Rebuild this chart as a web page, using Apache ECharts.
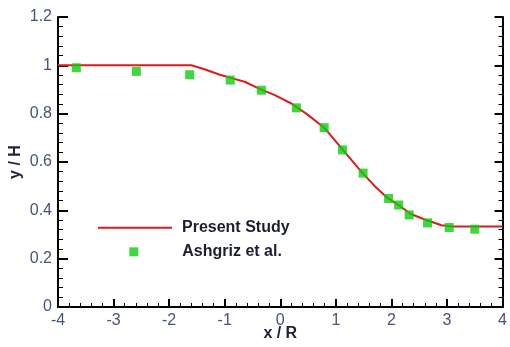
<!DOCTYPE html>
<html>
<head>
<meta charset="utf-8">
<script src="https://cdn.jsdelivr.net/npm/echarts@6/dist/echarts.min.js"></script>
<style>
  html, body { margin: 0; padding: 0; background: #fff; }
  #chart { width: 510px; height: 347px; }
</style>
</head>
<body>
<div id="chart"></div>
<script>
// 计算结果曲线
const studyX = [-4, -1.6, -1.35, -1.1, -0.88, -0.64, -0.4, -0.1, 0.2, 0.48, 0.79, 1.12, 1.45, 1.7, 1.91, 2.14, 2.35, 2.6, 2.9, 3.1, 4];
const studyY = [1, 1, 0.983, 0.962, 0.947, 0.932, 0.906, 0.877, 0.842, 0.798, 0.742, 0.652, 0.562, 0.5, 0.455, 0.42, 0.385, 0.362, 0.338, 0.333, 0.333];

// 实验数据点
const expX = [-3.67, -2.59, -1.63, -0.9, -0.34, 0.29, 0.79, 1.12, 1.49, 1.95, 2.13, 2.32, 2.65, 3.04, 3.5];
const expY = [0.99, 0.975, 0.961, 0.939, 0.897, 0.824, 0.742, 0.65, 0.554, 0.449, 0.422, 0.381, 0.348, 0.329, 0.322];

const seriesNames = ['Present Study', 'Ashgriz et al.'];

const zip = (xs, ys) => xs.map((x, i) => [x, ys[i]]);

const chart = echarts.init(document.getElementById('chart'));

const labelStyle = {
  fontFamily: 'Liberation Sans',
  fontSize: 16,
  color: '#44547a'
};
const nameStyle = {
  fontFamily: 'Liberation Sans',
  fontSize: 16,
  fontWeight: 'bold',
  color: '#1e2233'
};
const legendText = (padLeft) => ({
  fontFamily: 'Liberation Sans',
  fontSize: 16,
  fontWeight: 'bold',
  color: '#1c1f33',
  padding: [0, 0, 0, padLeft]
});

chart.setOption({
  animation: false,
  grid: { left: 58, right: 2, top: 17, bottom: 37 },
  legend: [
    {
      left: 93,
      top: 214.7,
      itemWidth: 74,
      itemHeight: 2,
      icon: 'rect',
      textStyle: legendText(5),
      data: [seriesNames[0]]
    },
    {
      left: 124.3,
      top: 238.8,
      itemWidth: 9,
      itemHeight: 9,
      icon: 'rect',
      textStyle: legendText(39),
      data: [seriesNames[1]]
    }
  ],
  xAxis: [
    {
      type: 'value',
      min: -4,
      max: 4,
      interval: 1,
      name: 'x / R',
      nameLocation: 'middle',
      nameGap: 19,
      nameMoveOverlap: false,
      nameTextStyle: nameStyle,
      axisLine: { show: true, lineStyle: { color: '#000', width: 2 } },
      axisTick: { show: true, inside: true, length: 8, lineStyle: { color: '#000', width: 2 } },
      minorTick: { show: true, splitNumber: 5, length: 4, lineStyle: { color: '#000', width: 1 } },
      axisLabel: Object.assign({ margin: 6 }, labelStyle),
      splitLine: { show: false }
    },
    {
      type: 'value',
      position: 'top',
      min: -4,
      max: 4,
      axisLine: { show: true, lineStyle: { color: '#000', width: 2 } },
      axisTick: { show: false },
      axisLabel: { show: false },
      splitLine: { show: false }
    }
  ],
  yAxis: [
    {
      type: 'value',
      min: 0,
      max: 1.2,
      interval: 0.2,
      name: 'y / H',
      nameLocation: 'middle',
      nameGap: 34,
      nameMoveOverlap: false,
      nameTextStyle: nameStyle,
      axisLine: { show: true, onZero: false, lineStyle: { color: '#000', width: 2 } },
      axisTick: { show: true, inside: true, length: 10, lineStyle: { color: '#000', width: 2 } },
      minorTick: { show: true, splitNumber: 5, length: 5, lineStyle: { color: '#000', width: 1 } },
      axisLabel: Object.assign({ margin: 6 }, labelStyle),
      splitLine: { show: false }
    },
    {
      type: 'value',
      position: 'right',
      min: 0,
      max: 1.2,
      interval: 0.2,
      axisLine: { show: true, onZero: false, lineStyle: { color: '#000', width: 2 } },
      axisTick: { show: true, inside: true, length: 8, lineStyle: { color: '#000', width: 2 } },
      minorTick: { show: true, splitNumber: 5, length: 4, lineStyle: { color: '#000', width: 1 } },
      axisLabel: { show: false },
      splitLine: { show: false }
    }
  ],
  series: [
    {
      name: seriesNames[0],
      type: 'line',
      data: zip(studyX, studyY),
      showSymbol: false,
      symbol: 'none',
      lineStyle: { color: '#dc1c1c', width: 2 },
      itemStyle: { color: '#dc1c1c' },
      z: 2
    },
    {
      name: seriesNames[1],
      type: 'scatter',
      data: zip(expX, expY),
      symbol: 'rect',
      symbolSize: 9,
      itemStyle: { color: '#0fcc0f' },
      z: 3
    }
  ]
});
</script>
</body>
</html>
